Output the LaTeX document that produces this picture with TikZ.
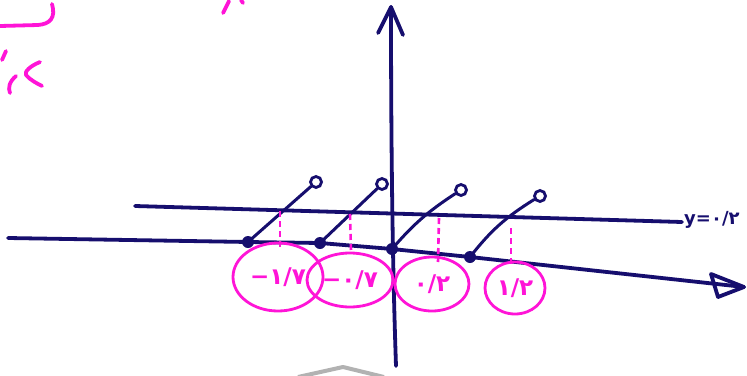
\documentclass[tikz,border=0pt]{standalone}
\usepackage{fontspec}
\newfontfamily\fa{DejaVu Sans}
\usetikzlibrary{shapes.geometric}
\definecolor{ink}{RGB}{22,14,110}
\definecolor{pinkink}{RGB}{255,20,215}
\tikzset{
  axisline/.style={draw=ink, line width=3.8pt, line cap=round, line join=round},
  thinline/.style={draw=ink, line width=3pt, line cap=round},
  dotnode/.style={circle, fill=ink, inner sep=0pt, minimum size=12pt},
  opennode/.style={circle, draw=ink, line width=2.8pt, inner sep=0pt, minimum size=11pt},
  dashpink/.style={draw=pinkink, line width=2.6pt, dash pattern=on 6pt off 4pt},
  pinkloop/.style={ellipse, draw=pinkink, line width=2.8pt, inner sep=0pt, text=pinkink, font=\fa\bfseries\fontsize{23}{23}\selectfont},
  scribble/.style={draw=pinkink, line width=3.8pt, line cap=round, line join=round},
}
\begin{document}
\begin{tikzpicture}[x=1pt,y=-1pt]
\useasboundingbox (0,0) rectangle (747,375);
\fill[white] (0,0) rectangle (747,375);

% gray fragment at bottom
\draw[gray!60, line width=4pt, line join=round] (298,377) -- (343,367) -- (384,377);

% pink scribbles (cut-off fragments)
\draw[scribble] (0,26) -- (38,25) .. controls (50,24) and (56,18) .. (52,4);
\draw[scribble] (223,13) -- (229,1);
\draw[scribble] (241,0) -- (243,3);
\draw[scribble] (6,51) -- (2,60);
\draw[scribble] (16,76) .. controls (9,82) and (8,88) .. (10,93);
\draw[scribble] (40,62) .. controls (30,66) and (24,72) .. (26,75) .. controls (30,80) and (38,84) .. (42,86);

% vertical axis
\coordinate (vb) at (396,366);
\coordinate (vt) at (391,7);
\draw[axisline] (vb) .. controls (392,250) and (391,120) .. (vt);
\coordinate (vl) at (378,33);
\coordinate (vr) at (403,35);
\draw[axisline] (vl) -- (vt) -- (vr);

% dots on x axis
\node[dotnode] (d1) at (248,242) {};
\node[dotnode] (d2) at (320,243) {};
\node[dotnode] (d3) at (392,249) {};
\node[dotnode] (d4) at (470,257) {};

% x axis
\coordinate (xl) at (8,238);
\coordinate (xr) at (744,287);
\draw[axisline] (xl) -- (d1.center) -- (d2.center) -- (d3.center) -- (d4.center) -- (xr);
\coordinate (ha) at (711,274);
\coordinate (hb) at (718,297);
\draw[axisline] (ha) -- (xr) -- (hb) -- cycle;

% upper line y = 0.2
\coordinate (ul) at (135,206);
\coordinate (ur) at (682,222);
\draw[axisline] (ul) -- (ur);
\node[text=ink, font=\fa\bfseries\fontsize{18}{18}\selectfont, anchor=west, inner sep=0pt] (ylab) at (684,220) {y=۰/۲};

% open circles
\node[opennode] (o1) at (316,182) {};
\node[opennode] (o2) at (382,184) {};
\node[opennode] (o3) at (461,190) {};
\node[opennode] (o4) at (540,196) {};

% segments
\draw[thinline] (d1.center) -- (o1);
\draw[thinline] (d2.center) -- (o2);
\draw[thinline] (d3.center) to[bend left=8] (o3);
\draw[thinline] (d4.center) to[bend left=10] (o4);

% dashed projections
\coordinate (p1t) at (280,211); \coordinate (p1b) at (280,247);
\coordinate (p2t) at (350,214); \coordinate (p2b) at (351,251);
\coordinate (p3t) at (439,218); \coordinate (p3b) at (438,262);
\coordinate (p4t) at (511,228); \coordinate (p4b) at (511,266);
\draw[dashpink] (p1t) -- (p1b);
\draw[dashpink] (p2t) -- (p2b);
\draw[dashpink] (p3t) -- (p3b);
\draw[dashpink] (p4t) -- (p4b);

% pink labelled loops
\node[pinkloop, minimum width=90pt, minimum height=68pt] (e1) at (278,277) {−۱/۷};
\node[pinkloop, minimum width=86pt, minimum height=54pt] (e2) at (350,280) {−۰/۷};
\node[pinkloop, minimum width=74pt, minimum height=54pt] (e3) at (432,284) {۰/۲};
\node[pinkloop, minimum width=60pt, minimum height=52pt] (e4) at (515,288) {۱/۲};
\end{tikzpicture}
\end{document}
